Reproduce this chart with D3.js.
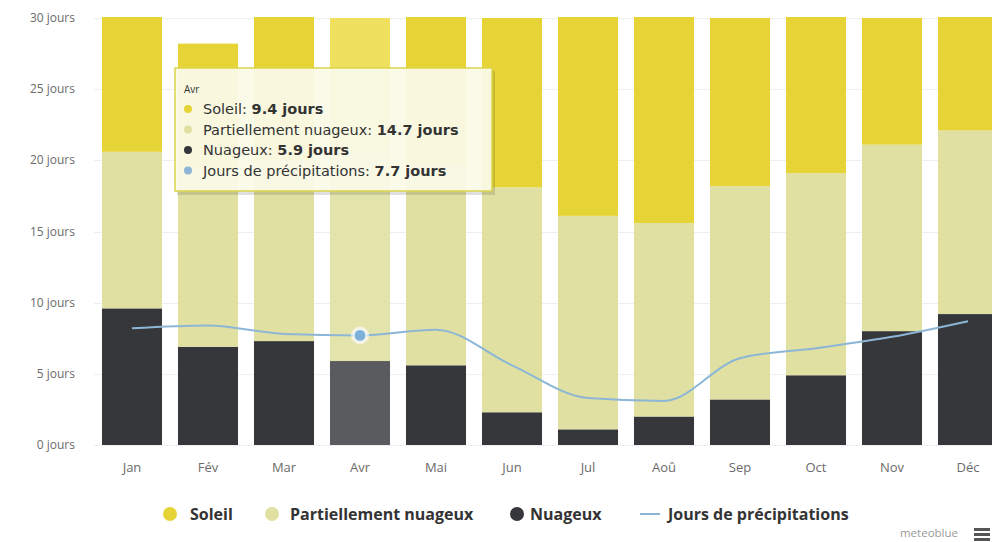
<!DOCTYPE html>
<html>
<head>
<meta charset="utf-8">
<script src="https://cdn.jsdelivr.net/npm/d3@7"></script>
<style>
  html, body { margin: 0; padding: 0; background: #fff; }
  svg { display: block; font-family: "Open Sans", "DejaVu Sans", sans-serif; }
</style>
</head>
<body>
<svg id="chart" width="992" height="542"></svg>
<script>
var MONTHS = ['Jan', 'Fév', 'Mar', 'Avr', 'Mai', 'Jun', 'Jul', 'Aoû', 'Sep', 'Oct', 'Nov', 'Déc']
var SOLEIL = [10.4, 8.8, 11.0, 9.4, 11.4, 11.9, 14.9, 15.4, 11.8, 11.9, 8.9, 8.9]
var PARTIELLEMENT = [11.0, 12.5, 12.7, 14.7, 14.0, 15.8, 15.0, 13.6, 15.0, 14.2, 13.1, 12.9]
var NUAGEUX = [9.6, 6.9, 7.3, 5.9, 5.6, 2.3, 1.1, 2.0, 3.2, 4.9, 8.0, 9.2]
var PRECIPITATIONS = [8.2, 8.4, 7.8, 7.7, 8.1, 5.6, 3.3, 3.1, 6.1, 6.8, 7.6, 8.7]
var Y_TICKS = [0, 5, 10, 15, 20, 25, 30]
var HOVER = 3 // Avr

var COLORS = {
  soleil: '#e6d436',
  partiel: '#dfe0a2',
  nuageux: '#35373a',
  precip: '#8db6d6'
}
var HOVER_COLORS = {
  soleil: '#efe060',
  partiel: '#e3e4ac',
  nuageux: '#5a5b5e'
}

var svg = d3.select('#chart')

var x = d3.scaleBand()
  .domain(MONTHS)
  .range([94, 1006])
  .paddingInner(0.21)
  .paddingOuter(0.105)

var y = d3.scaleLinear()
  .domain([0, 30])
  .range([445, 18])

svg.append('defs').append('clipPath').attr('id', 'plot')
  .append('rect').attr('x', 0).attr('y', 17).attr('width', 992).attr('height', 440)

// faint grid
svg.append('g').selectAll('line')
  .data(Y_TICKS)
  .join('line')
  .attr('x1', 94).attr('x2', 992)
  .attr('y1', function (d) { return Math.round(y(d)) + 0.5 })
  .attr('y2', function (d) { return Math.round(y(d)) + 0.5 })
  .attr('stroke', '#efefef')

// y labels
svg.append('g').selectAll('text')
  .data(Y_TICKS)
  .join('text')
  .attr('x', 75)
  .attr('y', function (d) { return y(d) + 4 })
  .attr('text-anchor', 'end')
  .attr('font-size', 12)
  .attr('fill', '#6b6b6b')
  .text(function (d) { return d + ' jours' })

// stacked bars
var rows = MONTHS.map(function (m, i) {
  return { month: m, nuageux: NUAGEUX[i], partiel: PARTIELLEMENT[i], soleil: SOLEIL[i] }
})
var stack = d3.stack().keys(['nuageux', 'partiel', 'soleil'])(rows)

svg.append('g')
  .attr('clip-path', 'url(#plot)')
  .selectAll('g')
  .data(stack)
  .join('g')
  .selectAll('rect')
  .data(function (layer) {
    return layer.map(function (d, i) { return { key: layer.key, lo: d[0], hi: d[1], i: i } })
  })
  .join('rect')
  .attr('x', function (d) { return x(MONTHS[d.i]) })
  .attr('width', x.bandwidth())
  .attr('y', function (d) { return y(d.hi) })
  .attr('height', function (d) { return y(d.lo) - y(d.hi) })
  .attr('fill', function (d) { return d.i === HOVER ? HOVER_COLORS[d.key] : COLORS[d.key] })

// x labels
svg.append('g').selectAll('text')
  .data(MONTHS)
  .join('text')
  .attr('x', function (d) { return x(d) + x.bandwidth() / 2 })
  .attr('y', 472)
  .attr('text-anchor', 'middle')
  .attr('font-size', 13)
  .attr('fill', '#6b6b6b')
  .text(function (d) { return d })

// precipitation spline
var line = d3.line()
  .x(function (d, i) { return x(MONTHS[i]) + x.bandwidth() / 2 })
  .y(function (d) { return y(d) })
  .curve(d3.curveMonotoneX)

svg.append('path')
  .datum(PRECIPITATIONS)
  .attr('d', line)
  .attr('fill', 'none')
  .attr('stroke', COLORS.precip)
  .attr('stroke-width', 2)

var hx = x(MONTHS[HOVER]) + x.bandwidth() / 2
var hy = y(PRECIPITATIONS[HOVER])
svg.append('circle').attr('cx', hx).attr('cy', hy).attr('r', 9)
  .attr('fill', '#ffffff').attr('fill-opacity', 0.6)
svg.append('circle').attr('cx', hx).attr('cy', hy).attr('r', 6)
  .attr('fill', '#7fb0da').attr('stroke', '#ffffff').attr('stroke-width', 1)

// tooltip
var tip = svg.append('g').attr('transform', 'translate(175,68)')
tip.append('rect')
  .attr('x', 2).attr('y', 3).attr('width', 318).attr('height', 124)
  .attr('fill', '#000').attr('fill-opacity', 0.12)
tip.append('rect')
  .attr('width', 317).attr('height', 123)
  .attr('fill', '#fbfbe9').attr('fill-opacity', 0.95)
  .attr('stroke', '#dcd54a').attr('stroke-width', 1.5)
tip.append('text')
  .attr('x', 9).attr('y', 25)
  .attr('font-size', 10).attr('fill', '#333')
  .text(MONTHS[HOVER])

var tipRows = [
  { label: 'Soleil: ', value: SOLEIL[HOVER], color: COLORS.soleil },
  { label: 'Partiellement nuageux: ', value: PARTIELLEMENT[HOVER], color: COLORS.partiel },
  { label: 'Nuageux: ', value: NUAGEUX[HOVER], color: COLORS.nuageux },
  { label: 'Jours de précipitations: ', value: PRECIPITATIONS[HOVER], color: COLORS.precip }
]
var tr = tip.selectAll('g.row')
  .data(tipRows)
  .join('g')
  .attr('class', 'row')
  .attr('transform', function (d, i) { return 'translate(0,' + (41 + i * 20.5) + ')' })
tr.append('circle').attr('cx', 13).attr('cy', 0).attr('r', 4)
  .attr('fill', function (d) { return d.color })
var tt = tr.append('text').attr('x', 28).attr('y', 5)
  .attr('font-family', '"DejaVu Sans", sans-serif')
  .attr('font-size', 14.5).attr('fill', '#333')
tt.append('tspan').text(function (d) { return d.label })
tt.append('tspan').attr('font-weight', 'bold')
  .text(function (d) { return d.value.toFixed(1) + ' jours' })

// legend
var legend = [
  { label: 'Soleil', color: COLORS.soleil, x: 170, tx: 190, type: 'dot' },
  { label: 'Partiellement nuageux', color: COLORS.partiel, x: 272, tx: 290, type: 'dot' },
  { label: 'Nuageux', color: COLORS.nuageux, x: 517, tx: 530, type: 'dot' },
  { label: 'Jours de précipitations', color: COLORS.precip, x: 650, tx: 668, type: 'line' }
]
var lg = svg.append('g').selectAll('g')
  .data(legend)
  .join('g')
  .attr('transform', function (d) { return 'translate(' + d.x + ',514)' })
lg.filter(function (d) { return d.type === 'dot' })
  .append('circle').attr('r', 7)
  .attr('fill', function (d) { return d.color })
lg.filter(function (d) { return d.type === 'line' })
  .append('line').attr('x1', -10).attr('x2', 10)
  .attr('stroke', function (d) { return d.color }).attr('stroke-width', 2)
lg.append('text')
  .attr('x', function (d) { return d.tx - d.x })
  .attr('y', 6)
  .attr('font-size', 16)
  .attr('font-weight', 'bold')
  .attr('fill', '#333')
  .text(function (d) { return d.label })

// credit + menu
svg.append('text')
  .attr('x', 958).attr('y', 537)
  .attr('text-anchor', 'end')
  .attr('font-size', 11.5)
  .attr('fill', '#999')
  .text('meteoblue')
svg.append('g').selectAll('rect')
  .data([0, 1, 2])
  .join('rect')
  .attr('x', 974).attr('width', 16).attr('height', 3)
  .attr('y', function (d) { return 528 + d * 5 })
  .attr('fill', '#555')
</script>
</body>
</html>
